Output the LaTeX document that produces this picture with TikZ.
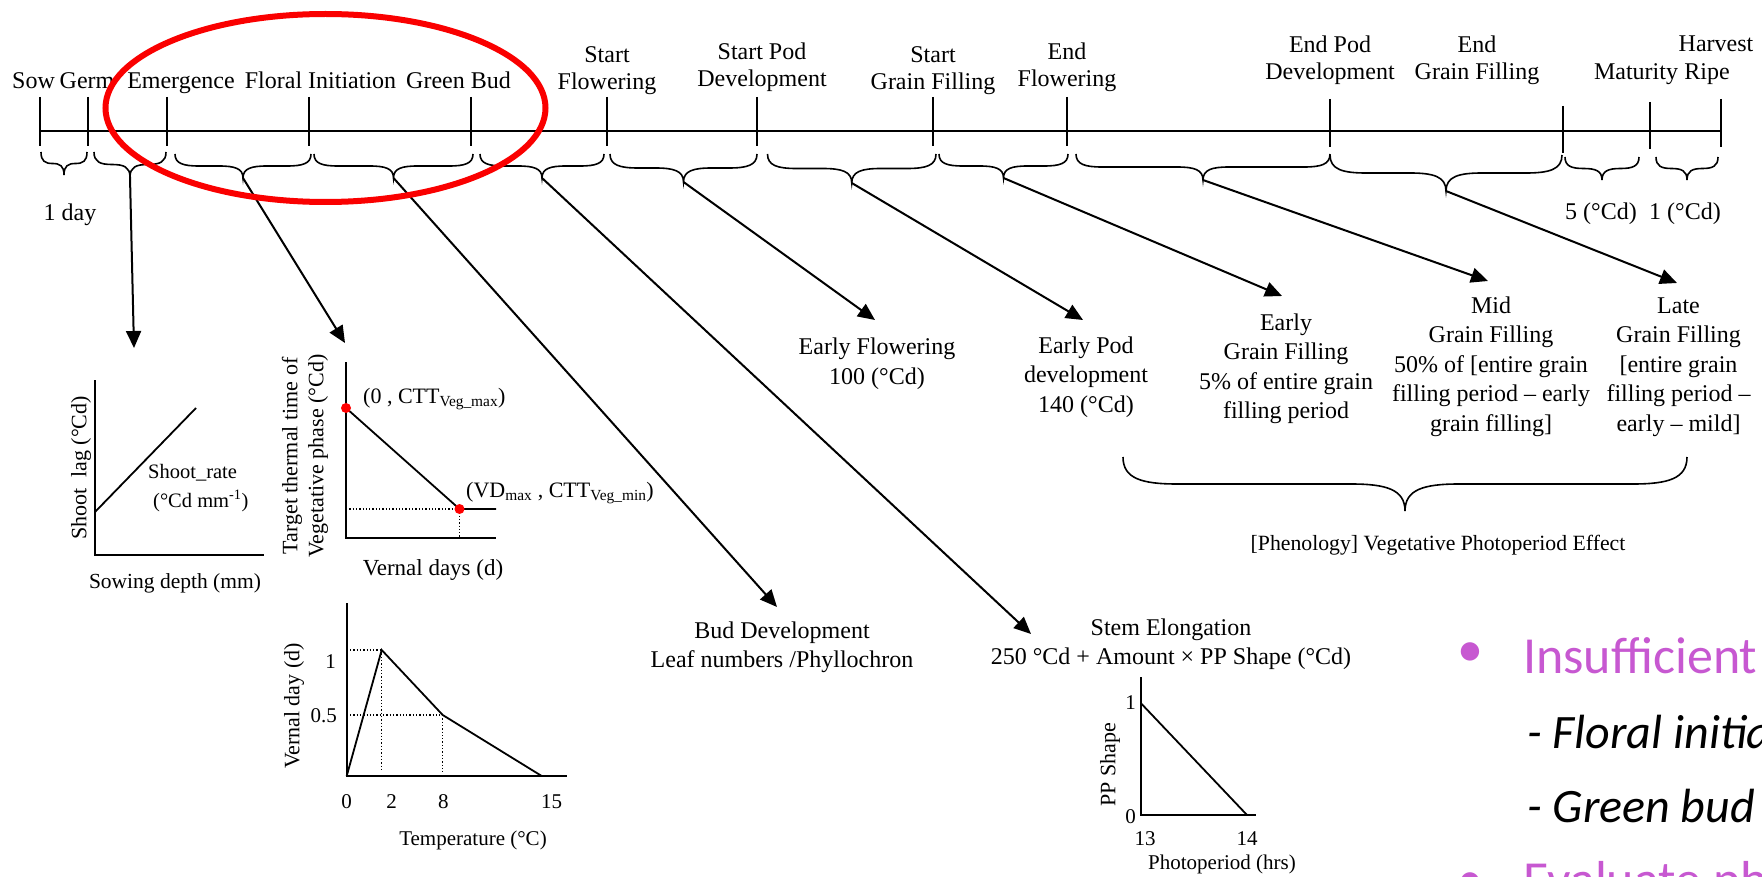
\documentclass[tikz,border=0pt]{standalone}
\usepackage{fontspec}
\setmainfont{Liberation Serif}
\newfontfamily\calib{Carlito}
\usetikzlibrary{arrows.meta}
\definecolor{bulletpurple}{RGB}{199,88,209}
\definecolor{ellred}{RGB}{250,0,0}
\newcommand{\wbrace}[5]{%
  \pgfmathsetmacro\brM{(#1+#2)/2}%
  \pgfmathsetmacro\brR{min(0.25*(#2-#1),#4)}%
  \draw[brace line] (#1,#3) .. controls (#1,#3+0.4*#4) and (#1+0.35*\brR,#3+0.5*#4) .. (#1+\brR,#3+0.5*#4)
     -- (\brM-\brR,#3+0.5*#4) .. controls (\brM-0.35*\brR,#3+0.5*#4) and (\brM,#3+0.6*#4) .. (\brM,#3+#4)
     .. controls (\brM,#3+0.6*#4) and (\brM+0.35*\brR,#3+0.5*#4) .. (\brM+\brR,#3+0.5*#4)
     -- (#2-\brR,#3+0.5*#4) .. controls (#2-0.35*\brR,#3+0.5*#4) and (#2,#3+0.4*#4) .. (#2,#3);
  \coordinate (#5) at (\brM,#3+#4);
}
\begin{document}
\begin{tikzpicture}[x=1pt,y=-1pt,
  tl/.style={line width=2pt},
  brace line/.style={line width=1.6pt},
  arr/.style={line width=2pt,-{Triangle[length=17pt,width=15pt]}},
  ax/.style={line width=2pt},
  crv/.style={line width=1.8pt},
  dotln/.style={line width=1.3pt, dotted},
  lab/.style={font=\fontsize{24}{27.5}\selectfont, inner sep=0pt, align=center, anchor=base},
  mlab/.style={font=\fontsize{24}{29.5}\selectfont, inner sep=0pt, align=center, anchor=base},
  glab/.style={font=\fontsize{22}{26}\selectfont, inner sep=0pt, align=center},
  tk/.style={font=\fontsize{21}{24}\selectfont, inner sep=0pt},
  rdot/.style={fill=red, draw=none},
  bul/.style={font=\calib\fontsize{52}{60}\selectfont, text=bulletpurple, inner sep=0pt, anchor=base west},
  sub/.style={font=\calib\itshape\fontsize{48}{56}\selectfont, inner sep=0pt, anchor=base west},
]
\useasboundingbox (0,0) rectangle (1762,877);
\fill[white] (0,0) rectangle (1762,877);
\clip (0,0) rectangle (1762,877);

% ---- timeline
\draw[tl] (40,131.5) -- (1721,131.5);
\foreach \x/\t/\b in {40/97/146, 88/97/146, 166.5/97/146, 308.5/97/146, 470.7/97/146, 607/97/146, 757/97/146, 933/97/146, 1067/97/146, 1330/99/147, 1563/106/153, 1650/102/149, 1721/99/147}
  \draw[tl] (\x,\t) -- (\x,\b);

% ---- stage labels (anchor base = last line)
\node[lab] (sow) at (33.5,89) {Sow};
\node[lab] (germ) at (87,89) {Germ};
\node[lab] (emer) at (181,89) {Emergence};
\node[lab] (flor) at (320.5,89) {Floral Initiation};
\node[lab] (gbud) at (458.5,89) {Green Bud};
\node[lab] (sfl) at (607,90) {Start\\Flowering};
\node[lab] (spod) at (762,87) {Start Pod\\Development};
\node[lab] (sgf) at (933,90) {Start\\Grain Filling};
\node[lab] (efl) at (1067,87) {End\\Flowering};
\node[lab] (epod) at (1330,80) {End Pod\\Development};
\node[lab] (egf) at (1477,80) {End\\Grain Filling};
\node[lab] (harv) at (1716,52) {Harvest};
\node[lab] (mat) at (1636,80) {Maturity};
\node[lab] (ripe) at (1707,80) {Ripe};

% ---- braces
\wbrace{41}{87}{152}{23}{b1}
\wbrace{94}{166}{152}{25}{b2}
\wbrace{175}{311}{154}{24}{b3}
\wbrace{314}{473}{154}{24}{b4}
\wbrace{480}{604}{154}{24}{b5}
\wbrace{610}{757}{154}{28}{b6}
\wbrace{767.5}{936}{154}{29}{b7}
\wbrace{939}{1068}{154}{24}{b8}
\wbrace{1076}{1330}{154}{26}{b9}
\wbrace{1330}{1562}{155}{36}{b10}
\wbrace{1565}{1639}{157}{23}{b11}
\wbrace{1656}{1718}{157}{23}{b12}

\node[lab] (d1) at (70,221) {1 day};
\node[lab] (d5) at (1601,220) {5 (°Cd)};
\node[lab] (d1b) at (1685,220) {1 (°Cd)};

% ---- arrow ends
\coordinate (t2) at (134,348);
\coordinate (t3) at (345,343);
\coordinate (t4) at (777,607);
\coordinate (t5) at (1031,634);
\coordinate (t6) at (875,320);
\coordinate (t7) at (1083,320);
\coordinate (t8) at (1282,296);
\coordinate (t9) at (1488,281);
\coordinate (t10) at (1677,283);
\draw[arr] (b2) -- (t2);
\draw[arr] (b3) -- (t3);
\draw[arr] (b4) -- (t4);
\draw[arr] (b5) -- (t5);
\draw[arr] (b6) -- (t6);
\draw[arr] (b7) -- (t7);
\draw[arr] (b8) -- (t8);
\draw[arr] (b9) -- (t9);
\draw[arr] (b10) -- (t10);

% ---- middle labels (anchor base = last line)
\node[mlab] (eflw) at (877,384.5) {Early Flowering\\100 (°Cd)};
\node[mlab] (epd) at (1086,412) {Early Pod\\development\\140 (°Cd)};
\node[mlab] (egfl) at (1286,418.5) {Early\\Grain Filling\\5\% of entire grain\\filling period};
\node[mlab] (mgfl) at (1491,431) {Mid\\Grain Filling\\50\% of [entire grain\\filling period – early\\grain filling]};
\node[mlab] (lgfl) at (1678.5,431) {Late\\Grain Filling\\{[}entire grain\\filling period –\\early – mild]};

\wbrace{1123}{1687}{457}{54}{bph}
\node[lab, font=\fontsize{21.75}{25}\selectfont] (phen) at (1438,550) {[Phenology] Vegetative Photoperiod Effect};

\node[mlab] (bud) at (782,667.5) {Bud Development\\Leaf numbers /Phyllochron};
\node[mlab] (stem) at (1171,664.5) {Stem Elongation\\250 °Cd + Amount × PP Shape (°Cd)};

% ---- graph 1: shoot lag
\draw[ax] (95,380) -- (95,555) -- (264,555);
\draw[crv] (95,512) -- (196,408);
\node[glab, rotate=90] (g1y) at (81,468) {Shoot\ \ lag (°Cd)};
\node[font=\fontsize{20.5}{29}\selectfont, inner sep=0pt, align=left, anchor=base west] (g1r) at (148,507) {Shoot\_rate\\\hspace*{5pt}(°Cd mm\textsuperscript{-1})};
\node[lab, font=\fontsize{21.5}{25}\selectfont] (g1x) at (175,588) {Sowing depth (mm)};

% ---- graph 2: vernal days
\draw[ax] (346,362) -- (346,538) -- (496,538);
\draw[dotln] (346,509) -- (459.5,509);
\draw[dotln] (459.5,509) -- (459.5,538);
\draw[crv] (346,408) -- (459.5,509) -- (496,509);
\fill[rdot] (346,408) circle[radius=5];
\fill[rdot] (459.5,509) circle[radius=5];
\node[font=\fontsize{22}{26}\selectfont, inner sep=0pt, anchor=base west] (p1) at (363,403) {(0 , CTT\textsubscript{Veg\_max})};
\node[font=\fontsize{22}{26}\selectfont, inner sep=0pt, anchor=base west] (p2) at (466,497) {(VD\textsubscript{max} , CTT\textsubscript{Veg\_min})};
\node[glab, rotate=90] (g2y) at (305,456) {Target thermal time of\\Vegetative phase (°Cd)};
\node[lab, font=\fontsize{23}{26}\selectfont] (g2x) at (433,575) {Vernal days (d)};

% ---- graph 3: vernal day vs temperature
\draw[ax] (346.7,603) -- (346.7,776) -- (567,776);
\draw[dotln] (346.7,650) -- (381.7,650);
\draw[dotln] (381.7,650) -- (381.7,772);
\draw[dotln] (346.7,715) -- (442.7,715);
\draw[dotln] (442.7,715) -- (442.7,772);
\draw[crv] (346.7,776) -- (381.7,650) -- (442.7,715) -- (541.7,776);
\node[tk, anchor=east] (y1) at (336,661.5) {1};
\node[tk, anchor=east] (y05) at (337,716) {0.5};
\node[tk, anchor=base] (x0) at (346.7,808) {0};
\node[tk, anchor=base] (x2) at (391.7,808) {2};
\node[tk, anchor=base] (x8) at (443.3,808) {8};
\node[tk, anchor=base] (x15) at (551.7,808) {15};
\node[lab, font=\fontsize{21}{25}\selectfont] (g3x) at (473,845) {Temperature (°C)};
\node[glab, rotate=90] (g3y) at (294,706) {Vernal day (d)};

% ---- graph 4: PP shape
\draw[ax] (1140.7,677) -- (1140.7,815) -- (1256,815);
\draw[crv] (1140.7,703) -- (1247,815);
\node[tk, anchor=east] (pp1) at (1136,703) {1};
\node[tk, anchor=east] (pp0) at (1136,817) {0};
\node[tk, anchor=base] (h13) at (1145,845) {13};
\node[tk, anchor=base] (h14) at (1247,845) {14};
\node[lab, font=\fontsize{21}{25}\selectfont] (g4x) at (1222,869) {Photoperiod (hrs)};
\node[glab, rotate=90] (g4y) at (1110,765) {PP Shape};

% ---- right bullet text
\node[bul, anchor=center] (bu1) at (1470,655) {•};
\node[bul] (ins) at (1523,673) {Insufficient};
\node[sub] (fi) at (1527,748) {- Floral initia};
\node[sub] (gb) at (1527,822) {- Green bud};
\node[bul, anchor=center] (bu2) at (1470,885) {•};
\node[bul] (ev) at (1523,897) {Evaluate pha};

% ---- red ellipse
\draw[ellred, line width=6pt] (325.5,108) ellipse[x radius=220, y radius=94];
\end{tikzpicture}
\end{document}
